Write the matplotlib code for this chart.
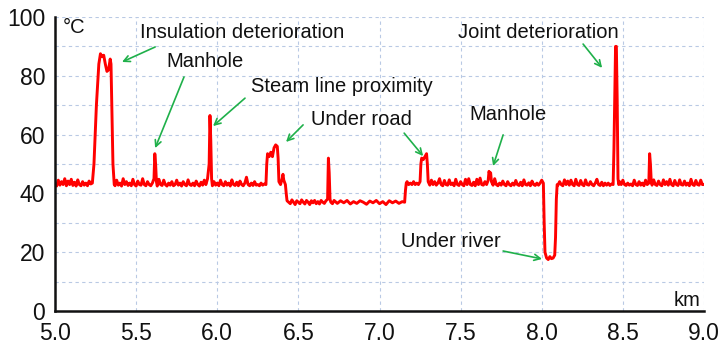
import matplotlib
matplotlib.use("Agg")
import matplotlib.pyplot as plt

plt.rcParams['font.family'] = ['Liberation Sans', 'DejaVu Sans']

# distance along the line (km) and measured temperature (°C)
dist_km = [
    5.00, 5.01, 5.02, 5.03, 5.04, 5.05, 5.06, 5.07, 5.08, 5.09, 5.10, 5.11, 5.12, 5.13, 5.14,
    5.15, 5.16, 5.17, 5.18, 5.19, 5.20, 5.21, 5.22, 5.23,
    5.24, 5.255, 5.27, 5.28, 5.29, 5.30, 5.31, 5.32, 5.33, 5.34, 5.345, 5.35, 5.357, 5.365,
    5.37, 5.38, 5.39, 5.40, 5.41, 5.42, 5.43, 5.44, 5.45, 5.46, 5.47, 5.48, 5.49, 5.50, 5.51,
    5.52, 5.53, 5.54, 5.55, 5.56, 5.57, 5.58, 5.59, 5.60, 5.61, 5.615, 5.62, 5.625, 5.63,
    5.64, 5.65, 5.66, 5.67, 5.68, 5.69, 5.70, 5.71, 5.72, 5.73, 5.74, 5.75, 5.76, 5.77, 5.78,
    5.79, 5.80, 5.81, 5.82, 5.83, 5.84, 5.85, 5.86, 5.87, 5.88, 5.89, 5.90, 5.91, 5.92, 5.93,
    5.94, 5.95, 5.955, 5.96, 5.965, 5.97, 5.98, 5.99, 6.00, 6.01, 6.02, 6.03, 6.04, 6.05,
    6.06, 6.07, 6.08, 6.09, 6.10, 6.11, 6.12, 6.13, 6.14, 6.15, 6.16, 6.17, 6.18, 6.19, 6.20,
    6.21, 6.22, 6.23, 6.24, 6.25, 6.26, 6.27, 6.28, 6.29, 6.30,
    6.305, 6.31, 6.32, 6.33, 6.34, 6.35, 6.36, 6.37, 6.375, 6.38, 6.39, 6.40, 6.405, 6.41,
    6.42, 6.425, 6.43, 6.44,
    6.45, 6.46, 6.47, 6.48, 6.49, 6.50, 6.51, 6.52, 6.53, 6.54, 6.55, 6.56, 6.57, 6.58, 6.59,
    6.60, 6.61, 6.62, 6.63, 6.64, 6.65, 6.66, 6.67, 6.68, 6.685, 6.69, 6.695, 6.70, 6.71, 6.72,
    6.74, 6.76, 6.78, 6.80, 6.82, 6.84, 6.86, 6.88, 6.90, 6.92, 6.94, 6.96, 6.98, 7.00, 7.02,
    7.04, 7.06, 7.08, 7.10, 7.12, 7.14, 7.155, 7.16, 7.165,
    7.17, 7.18, 7.19, 7.20, 7.21, 7.22, 7.23, 7.24, 7.25, 7.255, 7.26, 7.27, 7.28, 7.29,
    7.295, 7.30, 7.31, 7.32, 7.33, 7.34, 7.35, 7.36, 7.37, 7.38, 7.39, 7.40, 7.41, 7.42, 7.43,
    7.44, 7.45, 7.46, 7.47, 7.48, 7.49, 7.50, 7.51, 7.52, 7.53, 7.54, 7.55, 7.56, 7.57, 7.58,
    7.59, 7.60, 7.61, 7.62, 7.63, 7.64, 7.65, 7.66, 7.67, 7.675, 7.68, 7.685, 7.69, 7.70,
    7.71, 7.72, 7.73, 7.74, 7.75, 7.76, 7.77, 7.78, 7.79, 7.80, 7.81, 7.82, 7.83, 7.84, 7.85,
    7.86, 7.87, 7.88, 7.89, 7.90, 7.91, 7.92, 7.93, 7.94, 7.95, 7.96, 7.97, 7.98, 7.99, 8.00,
    8.01, 8.015, 8.02, 8.03, 8.04, 8.05, 8.06, 8.07, 8.08, 8.085, 8.09, 8.095,
    8.10, 8.11, 8.12, 8.13, 8.14, 8.15, 8.16, 8.17, 8.18, 8.19, 8.20, 8.21, 8.22, 8.23, 8.24,
    8.25, 8.26, 8.27, 8.28, 8.29, 8.30, 8.31, 8.32, 8.33, 8.34, 8.35, 8.36, 8.37, 8.38, 8.39,
    8.40, 8.41, 8.42, 8.43, 8.44, 8.445, 8.45, 8.455, 8.46, 8.465, 8.47, 8.475, 8.48, 8.49,
    8.50, 8.51, 8.52, 8.53, 8.54, 8.55, 8.56, 8.57, 8.58, 8.59, 8.60, 8.61, 8.62, 8.63, 8.64,
    8.65, 8.66, 8.665, 8.67, 8.675, 8.68, 8.69, 8.70, 8.71, 8.72, 8.73, 8.74, 8.75, 8.76, 8.77,
    8.78, 8.79, 8.80, 8.81, 8.82, 8.83, 8.84, 8.85, 8.86, 8.87, 8.88, 8.89, 8.90, 8.91, 8.92,
    8.93, 8.94, 8.95, 8.96, 8.97, 8.98, 8.99, 9.00,
]
temp_c = [
    43.0, 42.5, 44.5, 42.8, 44.0, 43.0, 45.0, 42.6, 44.2, 43.0, 44.8, 42.7, 43.8, 42.5, 44.6,
    43.0, 42.6, 44.0, 42.8, 43.5, 42.6, 44.2, 43.2, 43.5,
    50.0, 70.0, 84.0, 87.5, 86.5, 87.0, 84.0, 81.5, 82.0, 85.7, 84.0, 70.0, 50.0, 43.0,
    42.6, 44.5, 42.8, 43.5, 42.5, 45.0, 43.0, 44.0, 42.7, 43.5, 42.6, 44.8, 43.0, 42.5, 44.2,
    43.0, 42.8, 45.0, 43.0, 42.6, 44.0, 43.0, 42.6, 43.5, 45.0, 53.5, 50.0, 44.0, 42.5,
    44.8, 43.0, 42.7, 44.5, 43.0, 42.5, 43.5, 42.8, 44.0, 42.6, 43.0, 44.5, 42.8, 43.5, 42.5,
    44.0, 43.0, 42.6, 44.6, 43.0, 42.7, 43.5, 42.6, 44.2, 43.0, 42.5, 43.8, 42.8, 44.5, 43.0,
    45.0, 50.0, 66.5, 58.0, 45.0, 42.6, 44.0, 42.8, 43.5, 42.6, 44.5, 43.0, 42.6, 44.0,
    42.8, 43.5, 42.5, 44.6, 43.0, 42.7, 43.8, 42.6, 44.2, 43.0, 42.6, 43.5, 45.5, 43.0, 42.6,
    43.5, 42.7, 44.0, 42.8, 43.0, 42.6, 43.5, 42.8, 43.2, 43.0,
    50.0, 53.5, 52.5, 54.0, 52.5, 55.5, 56.5, 56.0, 52.0, 44.0, 43.0, 45.0, 46.5, 44.5,
    43.0, 40.0, 37.5, 37.0,
    36.5, 37.8, 37.0, 36.2, 37.5, 37.0, 36.5, 37.8, 37.0, 36.4, 37.6, 37.0, 36.2, 37.5, 36.8,
    37.6, 36.5, 37.2, 36.4, 37.6, 37.0, 36.6, 37.5, 38.0, 52.0, 47.0, 38.0, 37.0, 36.5, 37.6,
    36.6, 37.5, 36.8, 37.6, 36.4, 37.2, 36.6, 37.5, 37.0, 36.3, 37.4, 36.8, 37.6, 36.5, 37.2,
    36.2, 37.5, 36.8, 37.4, 36.6, 37.2, 37.0, 41.0, 43.5,
    44.0, 43.0, 43.5, 43.0, 44.0, 43.0, 43.5, 43.0, 44.0, 50.0, 52.0, 51.5, 52.5, 53.5,
    50.0, 44.0, 42.8, 44.5, 43.0, 44.0, 42.8, 43.5, 45.0, 43.0, 42.6, 44.4, 43.0, 42.8, 44.6,
    43.0, 43.5, 42.6, 44.8, 43.0, 42.7, 44.0, 43.0, 42.6, 44.8, 43.0, 45.0, 43.0, 42.7, 43.8,
    42.6, 44.8, 43.0, 45.2, 43.0, 42.8, 44.0, 43.0, 44.5, 47.5, 46.5, 47.0, 44.0, 42.8,
    45.0, 43.0, 42.6, 43.5, 42.8, 44.2, 43.0, 42.6, 44.0, 43.0, 42.6, 43.5, 42.8, 44.4, 43.0,
    42.7, 43.8, 42.6, 44.6, 43.0, 42.8, 43.6, 42.6, 44.2, 43.0, 42.7, 43.5, 42.8, 43.5, 44.5,
    43.5, 30.0, 20.0, 18.0, 17.5, 18.5, 17.8, 18.0, 19.0, 25.0, 38.0, 43.0,
    42.8, 44.0, 43.0, 42.6, 44.6, 43.0, 44.2, 42.8, 44.5, 43.0, 42.6, 44.8, 43.0, 42.7, 44.4,
    43.0, 42.6, 44.6, 43.0, 42.8, 44.0, 43.0, 42.6, 43.5, 44.8, 43.0, 42.7, 43.8, 42.6, 43.5,
    42.8, 43.5, 42.7, 43.2, 43.0, 55.0, 73.0, 90.0, 90.0, 72.0, 45.0, 43.0, 44.0, 43.0,
    44.5, 43.0, 42.7, 43.5, 42.8, 43.2, 42.6, 44.5, 43.0, 42.7, 44.0, 42.8, 43.5, 42.6, 44.5,
    43.0, 43.5, 53.5, 50.0, 44.0, 42.8, 44.6, 43.0, 42.7, 44.2, 43.0, 42.6, 44.6, 43.0, 44.0,
    42.8, 44.8, 43.0, 42.6, 44.4, 43.0, 42.7, 44.6, 43.0, 42.8, 44.2, 42.8, 43.5, 42.6, 44.8,
    43.0, 42.7, 44.4, 43.0, 42.8, 44.5, 43.0, 43.0,
]

# annotation: text, text centre, arrow tail, arrow head (data coords)
labels = [
    ("Insulation deterioration", (6.153, 94.6), (5.617, 89.8), (5.413, 84.7)),
    ("Manhole", (5.925, 84.7), (5.795, 79.6), (5.617, 55.4)),
    ("Steam line proximity", (6.766, 76.5), (6.171, 72.4), (5.974, 62.9)),
    ("Under road", (6.890, 65.0), (6.529, 63.3), (6.424, 57.5)),
    ("Under road", None, (7.152, 60.5), (7.269, 52.7)),
    ("Manhole", (7.790, 66.7), (7.762, 59.9), (7.700, 49.3)),
    ("Joint deterioration", (7.978, 94.9), (8.255, 90.8), (8.372, 82.7)),
    ("Under river", (7.441, 23.5), (7.762, 20.4), (8.002, 17.7)),
]

fig = plt.figure(figsize=(7.25, 3.45), dpi=100)
ax = fig.add_axes([0.0759, 0.0986, 0.8951, 0.8521])

ax.plot(dist_km, temp_c, color='#ff0000', lw=2.1, solid_joinstyle='round')

ax.set_xlim(5.0, 9.0)
ax.set_ylim(0, 100)
ax.set_xticks([5.0, 5.5, 6.0, 6.5, 7.0, 7.5, 8.0, 8.5, 9.0])
ax.set_xticklabels(['5.0', '5.5', '6.0', '6.5', '7.0', '7.5', '8.0', '8.5', '9.0'])
ax.set_yticks([0, 20, 40, 60, 80, 100])
ax.set_yticks([10, 30, 50, 70, 90], minor=True)
ax.tick_params(axis='both', which='both', length=0, labelsize=16.5, colors='#111111')
ax.tick_params(axis='x', pad=8)
ax.tick_params(axis='y', pad=7)

ax.grid(True, which='both', color='#b9c9e4', ls=(0, (3, 3)), lw=0.8)
ax.set_axisbelow(True)

for side in ['top', 'right']:
    ax.spines[side].set_visible(False)
for side in ['left', 'bottom']:
    ax.spines[side].set_linewidth(1.8)
    ax.spines[side].set_color('#111111')

ax.text(5.049, 96.3, '°C', fontsize=14.5, ha='left', va='center', color='#111111')
ax.text(8.977, 3.7, 'km', fontsize=14.5, ha='right', va='center', color='#111111')

for text, pos, tail, head in labels:
    if pos is not None:
        ax.text(pos[0], pos[1], text, fontsize=14.5, ha='center', va='center',
                color='#111111')
    ax.annotate('', xy=head, xytext=tail,
                arrowprops=dict(arrowstyle='->', color='#1fb04a', lw=1.2,
                                mutation_scale=11, shrinkA=0, shrinkB=0))

fig.savefig('out.png', dpi=100)
